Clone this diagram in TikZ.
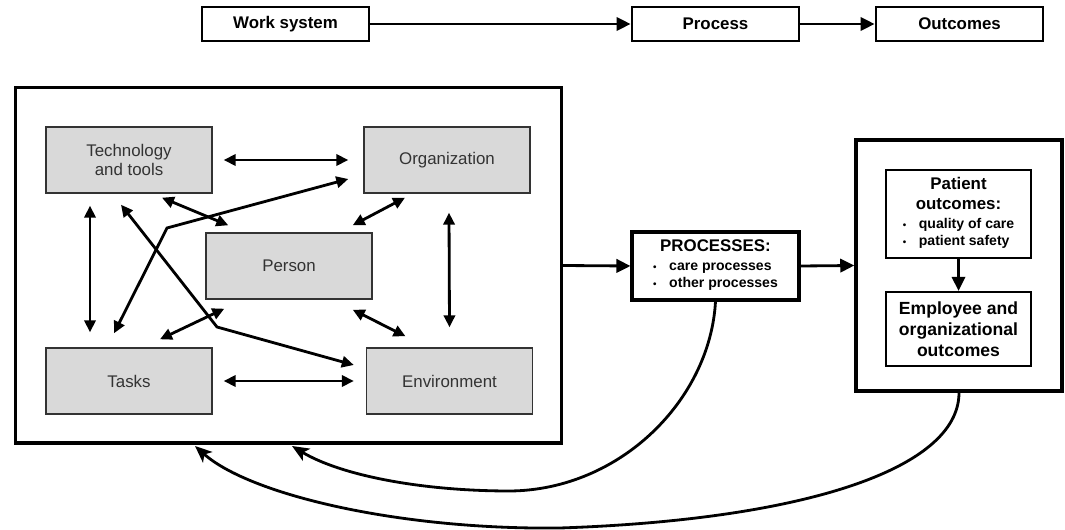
\documentclass[tikz,border=0pt]{standalone}
\usepackage{fontspec}
\setmainfont{Liberation Sans}
\usetikzlibrary{arrows.meta}
\definecolor{boxgray}{HTML}{D9D9D9}
\definecolor{textgray}{HTML}{333333}
\newcommand{\itemdot}{{\fontsize{7}{8}\selectfont\textbullet}}
\tikzset{
    top-box/.style = {draw, line width=2pt, minimum width=4.175cm, minimum height=0.85cm, font=\fontsize{12}{14}\selectfont\bfseries},
    frame-box/.style = {draw, line width=2.2pt},
    gray-box/.style = {draw=textgray, fill=boxgray, line width=1pt, minimum width=4.15cm, minimum height=1.65cm, align=center, text=textgray, font=\fontsize{12}{14}\selectfont},
    result-box/.style = {draw, line width=1.6pt, minimum width=3.625cm, align=center, font=\fontsize{12}{14}\selectfont\bfseries},
    link/.style = {line width=2pt, {Triangle[length=8.5pt,width=8pt]}-{Triangle[length=8.5pt,width=8pt]}},
    flow/.style = {line width=2pt, -{Triangle[length=10pt,width=9.5pt]}},
    feedback/.style = {line width=2pt, -{Stealth[length=12pt,width=10pt,inset=3pt]}},
}

\begin{document}
\begin{tikzpicture}[x=0.025cm, y=-0.025cm]
\useasboundingbox (0,0) rectangle (1065,530);

% top row
\node [top-box] (ws-top) at (285.5,24) {Work system};
\node [top-box] (proc-top) at (715.5,24) {Process};
\node [top-box] (outc-top) at (959.5,24) {Outcomes};
\draw [flow] (ws-top) -- (proc-top);
\draw [flow] (proc-top) -- (outc-top);

% work system
\node [frame-box, minimum width=13.625cm, minimum height=8.875cm] (ws) at (288.5,265.5) {};
\node [gray-box] (tech) at (129,160) {Technology\\and tools};
\node [gray-box] (org) at (447,160) {Organization};
\node [gray-box] (person) at (289,266) {Person};
\node [gray-box] (tasks) at (129,381) {Tasks};
\node [gray-box] (env) at (449.5,381) {Environment};

\draw [link] ([shift={(11,0)}]tech.east) -- ([shift={(-15,0)}]org.west);
\draw [link] ([shift={(11,0)}]tasks.east) -- ([shift={(-12,0)}]env.west);
\draw [link] ([shift={(-39,12)}]tech.south) -- ([shift={(-39,-15)}]tasks.north);
\draw [link] ([shift={(2,19)}]org.south) -- ([shift={(0,-20)}]env.north);
\draw [link] ([shift={(33,4)}]tech.south) -- ([shift={(23,-7)}]person.north west);
\draw [link] ([shift={(-42,4)}]org.south) -- ([shift={(-20,-7)}]person.north east);
\draw [link] ([shift={(19,9)}]person.south west) -- ([shift={(31,-8)}]tasks.north);
\draw [link] ([shift={(-20,10)}]person.south east) -- ([shift={(-44,-11)}]env.north);

\coordinate (bend-a) at (167,228);
\coordinate (bend-b) at (217,327);
\draw [link] ([shift={(-15,-14)}]tasks.north) -- (bend-a) -- ([shift={(-15,19)}]org.west);
\draw [link] ([shift={(-8,11)}]tech.south) -- (bend-b) -- ([shift={(-12,-16)}]env.west);

% processes and outcomes
\node [draw, line width=2.2pt, minimum width=4.175cm, minimum height=1.7cm, align=center, font=\fontsize{12}{14}\selectfont\bfseries] (proc) at (715.5,266) {PROCESSES:\\
  {\fontsize{10}{12}\selectfont\begin{tabular}[t]{@{}l@{\hspace{9pt}}l@{}}\itemdot & care processes\\ \itemdot & other processes\end{tabular}}};
\node [frame-box, line width=2.4pt, minimum width=5.15cm, minimum height=6.275cm] (outc) at (959,265.5) {};
\node [result-box, minimum height=2.2cm] (patient) at (958.5,214) {Patient\\outcomes:\\
  {\fontsize{10}{12}\selectfont\begin{tabular}[t]{@{}l@{\hspace{9pt}}l@{}}\itemdot & quality of care\\ \itemdot & patient safety\end{tabular}}};
\node [result-box, minimum height=1.85cm, font=\fontsize{12.5}{15}\selectfont\bfseries] (employee) at (958.5,329) {Employee and\\organizational\\outcomes};

\draw [flow] (ws.east) -- (proc.west);
\draw [flow] (proc.east) -- (outc.west);
\draw [flow, line width=1.6pt] (patient) -- (employee);

% feedback loops
\coordinate (back-a) at (292,446);
\coordinate (back-b) at (195,446);
\draw [feedback] (proc.south) .. controls (710,400) and (620,490) .. (510,491) .. controls (420,491) and (340,475) .. (back-a);
\draw [feedback] (outc.south) .. controls (959,470) and (800,520) .. (560,528) .. controls (400,530) and (250,495) .. (back-b);
\end{tikzpicture}
\end{document}
